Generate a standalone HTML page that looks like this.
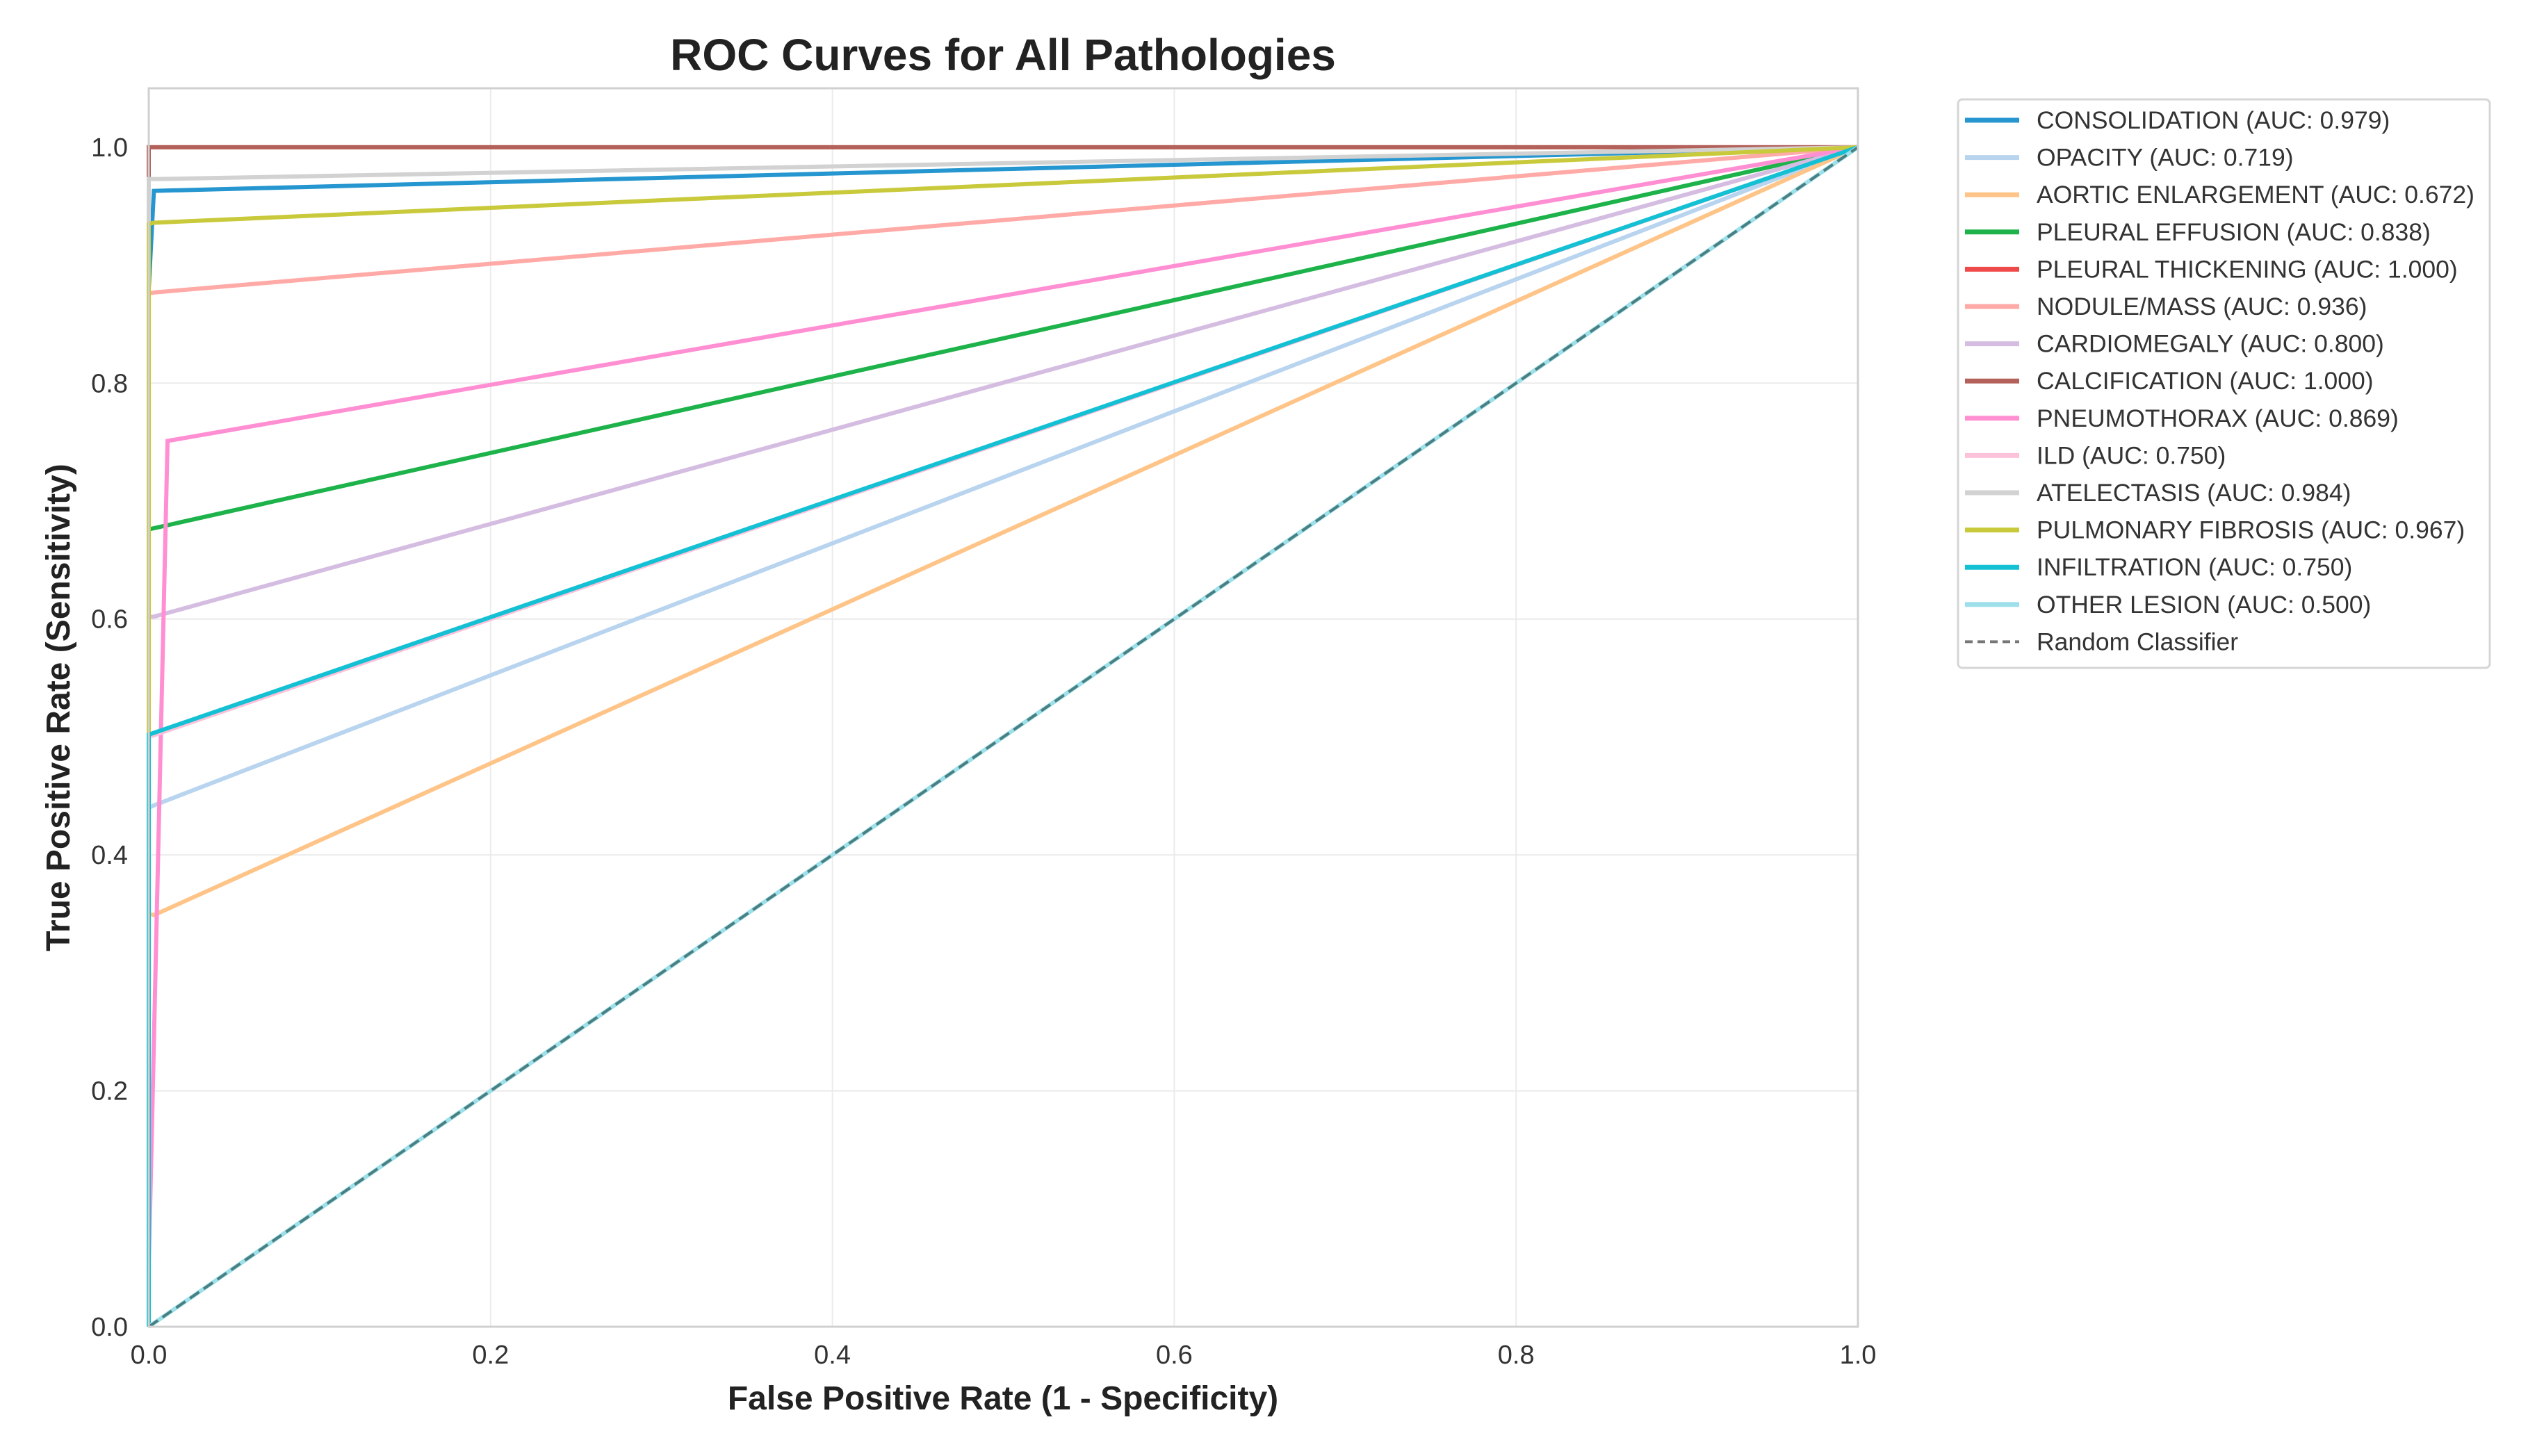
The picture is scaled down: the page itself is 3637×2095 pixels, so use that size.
<!DOCTYPE html>
<html><head><meta charset="utf-8"><style>
html,body{margin:0;padding:0;background:#fff;}
svg{display:block;font-family:"Liberation Sans",Arial,sans-serif;}
</style></head><body>
<svg id="chart" width="3637" height="2095" viewBox="0 0 3637 2095">
<text x="1443" y="101" text-anchor="middle" font-size="64" font-weight="bold" fill="#222">ROC Curves for All Pathologies</text>
<g id="grid"></g>
<g id="curves"></g>
<rect x="214" y="127" width="2459" height="1782" fill="none" stroke="#d0d0d0" stroke-width="3"/>
<g id="ticks"></g>
<text x="1443" y="2028" text-anchor="middle" font-size="48" font-weight="bold" fill="#222">False Positive Rate (1 - Specificity)</text>
<text transform="translate(100,1018) rotate(-90)" text-anchor="middle" font-size="48" font-weight="bold" fill="#222">True Positive Rate (Sensitivity)</text>
<rect x="2817" y="143" width="765" height="818" rx="6" fill="#fff" stroke="#d6d6d6" stroke-width="3"/>
<g id="legend"></g>
</svg>
<script>
const names = ["CONSOLIDATION","OPACITY","AORTIC ENLARGEMENT","PLEURAL EFFUSION","PLEURAL THICKENING","NODULE/MASS","CARDIOMEGALY","CALCIFICATION","PNEUMOTHORAX","ILD","ATELECTASIS","PULMONARY FIBROSIS","INFILTRATION","OTHER LESION"];
const aucs = ["0.979","0.719","0.672","0.838","1.000","0.936","0.800","1.000","0.869","0.750","0.984","0.967","0.750","0.500"];
const colors = ["#2596cf","#b8d4ef","#ffc488","#1db34a","#ef4a4a","#ffaaa6","#d5bde2","#b3615a","#ff8fd2","#fbc2da","#d2d2d2","#c9c93c","#14c0d4","#9ee0ea"];
const fprs = [[0,0,0.003,1],[0,0,0.003,1],[0,0,0.003,1],[0,0,0.003,1],[0,0,1],[0,0,0.004,1],[0,0,0.003,1],[0,0,1],[0,0,0.011,1],[0,0,1],[0,0,0.005,1],[0,0,0.003,1],[0,0,1],[0,1]];
const tprs = [[0,0.88,0.963,1],[0,0.44,0.442,1],[0,0.35,0.349,1],[0,0.676,0.677,1],[0,1,1],[0,0.876,0.877,1],[0,0.602,0.602,1],[0,1,1],[0,0.05,0.751,1],[0,0.5,1],[0,0.973,0.973,1],[0,0.935,0.936,1],[0,0.502,1],[0,1]];
const xTicks = [0,0.2,0.4,0.6,0.8,1.0];
const yTicks = [0,0.2,0.4,0.6,0.8,1.0];
const X0=214,X1=2673,YB=1909,YT=127,YMAX=1.05;
const sx=v=>X0+v*(X1-X0), sy=v=>YB-v/YMAX*(YB-YT);
const NS="http://www.w3.org/2000/svg";
function mk(tag,attrs,parent){const e=document.createElementNS(NS,tag);for(const k in attrs)e.setAttribute(k,attrs[k]);parent.appendChild(e);return e;}
const grid=document.getElementById('grid'),ticks=document.getElementById('ticks'),curves=document.getElementById('curves'),legend=document.getElementById('legend');
xTicks.forEach(t=>{
 const l=mk('line',{x1:sx(t),x2:sx(t),y1:YT,y2:YB,stroke:'#ebebeb','stroke-width':2},grid);
 
 
 const tx=mk('text',{x:sx(t),y:1962,'text-anchor':'middle','font-size':38,fill:'#333'},ticks);
 tx.textContent=t.toFixed(1);
 
 
});
yTicks.forEach(t=>{
 const l=mk('line',{x1:X0,x2:X1,y1:sy(t),y2:sy(t),stroke:'#ebebeb','stroke-width':2},grid);
 
 
 const tx=mk('text',{x:184,y:sy(t)+13,'text-anchor':'end','font-size':38,fill:'#333'},ticks);
 tx.textContent=t.toFixed(1);
 
 
});
names.forEach((n,i)=>{
 const pts=fprs[i].map((f,j)=>sx(f)+','+sy(tprs[i][j])).join(' ');
 const p=mk('polyline',{points:pts,fill:'none',stroke:colors[i],'stroke-width':6,'stroke-linejoin':'miter'},curves);
 
 
});
const rnd=mk('line',{x1:sx(0),y1:sy(0),x2:sx(1),y2:sy(1),stroke:'#4a7f82','stroke-width':4,'stroke-dasharray':'16,8'},curves);


const LY0=173,LDY=53.6;
names.forEach((n,i)=>{
 const y=LY0+i*LDY;
 const h=mk('line',{x1:2827,x2:2905,y1:y,y2:y,stroke:colors[i],'stroke-width':7},legend);
 
 
 const t=mk('text',{x:2930,y:y+12,'font-size':35.5,fill:'#333'},legend);
 t.textContent=n+' (AUC: '+aucs[i]+')';
 
 
});
const ry=LY0+14*LDY;
const rh=mk('line',{x1:2827,x2:2905,y1:ry,y2:ry,stroke:'#777','stroke-width':4,'stroke-dasharray':'11,7'},legend);


const rt=mk('text',{x:2930,y:ry+12,'font-size':35.5,fill:'#333'},legend);
rt.textContent='Random Classifier';


</script>
</body></html>
